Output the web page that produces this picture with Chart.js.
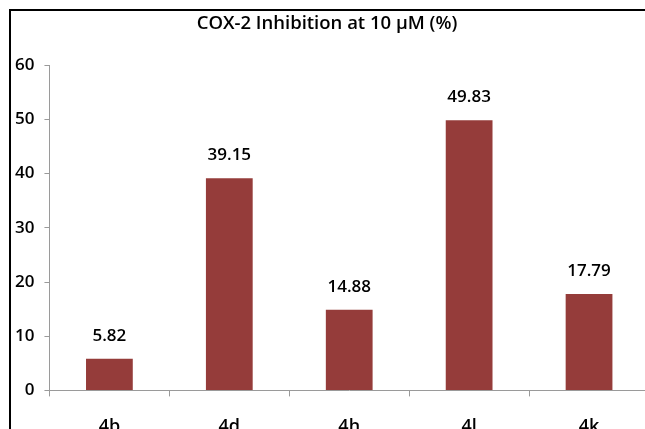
<!DOCTYPE html>
<html>
<head>
<meta charset="utf-8">
<script src="https://cdn.jsdelivr.net/npm/chart.js@4.4.0/dist/chart.umd.min.js"></script>
<style>
  html, body { margin: 0; padding: 0; overflow: hidden; background: #fff; }
  #page { position: relative; width: 645px; height: 429px; overflow: hidden; }
  .rule { position: absolute; background: #000; }
  #ruleTop { left: 9px; top: 9px; width: 636px; height: 2px; }
  #ruleLeft { left: 9px; top: 9px; width: 2px; height: 420px; }
  #wrap { position: absolute; left: 0; top: 0; width: 660px; height: 458px; }
</style>
</head>
<body>
<div id="page">
  <div class="rule" id="ruleTop"></div>
  <div class="rule" id="ruleLeft"></div>
  <div id="wrap"><canvas id="cox"></canvas></div>
</div>
<script>
const compounds = ["4b", "4d", "4h", "4l", "4k"];
const inhibition = [5.82, 39.15, 14.88, 49.83, 17.79];
const yTicks = [0, 10, 20, 30, 40, 50, 60];

const FONT = "'Open Sans', 'DejaVu Sans', sans-serif";
const BAR_COLOR = "#953c3a";
const AXIS_COLOR = "#9a9a9a";

// value above each bar, placed from the bar element itself
const valueLabels = {
  id: "valueLabels",
  afterDatasetsDraw(chart) {
    const ctx = chart.ctx;
    const meta = chart.getDatasetMeta(0);
    ctx.save();
    ctx.font = "600 17px " + FONT;
    ctx.fillStyle = "#000";
    ctx.textAlign = "center";
    ctx.textBaseline = "middle";
    meta.data.forEach(function (bar, i) {
      ctx.fillText(inhibition[i].toFixed(2), bar.x, bar.y - 23);
    });
    ctx.restore();
  }
};

function init() {
  const ctx = document.getElementById("cox");
  new Chart(ctx, {
    type: "bar",
    data: {
      labels: compounds,
      datasets: [{
        data: inhibition,
        backgroundColor: BAR_COLOR,
        borderWidth: 0,
        categoryPercentage: 1,
        barPercentage: 0.39
      }]
    },
    options: {
      responsive: true,
      maintainAspectRatio: false,
      animation: false,
      layout: { padding: { left: 5, right: 11, top: 0, bottom: 0 } },
      plugins: {
        legend: { display: false },
        tooltip: { enabled: false },
        title: {
          display: true,
          text: "COX-2 Inhibition at 10 μM (%)",
          color: "#000",
          font: { family: FONT, size: 18.5, weight: "600" },
          padding: { top: 13, bottom: 30 }
        }
      },
      scales: {
        x: {
          grid: { drawOnChartArea: false, offset: true, tickLength: 6, color: AXIS_COLOR },
          border: { color: AXIS_COLOR, width: 1 },
          ticks: { color: "#000", padding: 20, font: { family: FONT, size: 18, weight: "600" } }
        },
        y: {
          min: yTicks[0],
          max: yTicks[yTicks.length - 1],
          afterBuildTicks: function (axis) {
            axis.ticks = yTicks.map(function (v) { return { value: v }; });
          },
          grid: { drawOnChartArea: false, tickLength: 5, color: AXIS_COLOR },
          border: { color: AXIS_COLOR, width: 1 },
          ticks: { color: "#000", padding: 10, font: { family: FONT, size: 17, weight: "600" } }
        }
      }
    },
    plugins: [valueLabels]
  });
}

window.onload = init;
</script>
</body>
</html>
